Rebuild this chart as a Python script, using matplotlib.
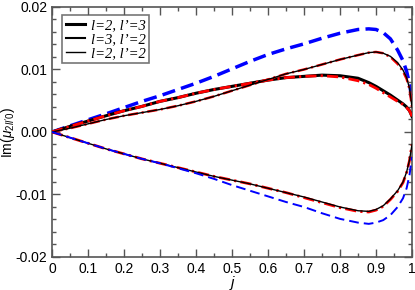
import matplotlib
matplotlib.use("Agg")
import matplotlib.pyplot as plt
from matplotlib.ticker import MultipleLocator
from matplotlib.lines import Line2D

plt.rcParams['font.family'] = ['Liberation Sans', 'DejaVu Sans']
plt.rcParams['mathtext.fontset'] = 'custom'
plt.rcParams['mathtext.rm'] = 'Liberation Sans'
plt.rcParams['mathtext.it'] = 'Liberation Sans:italic'

j = [0.0, 0.05, 0.1, 0.15, 0.2, 0.25, 0.3, 0.35, 0.4, 0.45, 0.5, 0.55, 0.6,
     0.65, 0.7, 0.75, 0.8, 0.85, 0.88, 0.9, 0.92, 0.94, 0.96, 0.975, 0.985,
     0.993, 1.0]

# l=2, l'=3 (thick black)
im_23 = [0.0, 0.0009, 0.00175, 0.0026, 0.0034, 0.0041, 0.0049, 0.0055, 0.0062,
         0.0068, 0.0073, 0.0078, 0.0083, 0.0087, 0.0089, 0.0091, 0.0090, 0.0086,
         0.0079, 0.0073, 0.0066, 0.0059, 0.0051, 0.0045, 0.0040, 0.0034, 0.0025]
# l=3, l'=2 (medium black)
im_32 = [0.0, 0.0006, 0.0013, 0.0020, 0.0026, 0.0031, 0.0036, 0.0042, 0.0049,
         0.0057, 0.0066, 0.0075, 0.0084, 0.0093, 0.0100, 0.0108, 0.0116, 0.0123,
         0.0127, 0.0128, 0.0126, 0.0121, 0.0111, 0.0099, 0.0087, 0.0070, 0.0040]
# l=2, l'=2 (thin black)
im_22 = [0.0, -0.0009, -0.0018, -0.0027, -0.0035, -0.0043, -0.0050, -0.0057,
         -0.0064, -0.0071, -0.0077, -0.0083, -0.0090, -0.0097, -0.0104, -0.0112,
         -0.0120, -0.0126, -0.0127, -0.0124, -0.0118, -0.0107, -0.0094, -0.0080,
         -0.0064, -0.0045, -0.0020]
# red dash-dot approximations
red_23 = [0.0, 0.0009, 0.00175, 0.0026, 0.0034, 0.0041, 0.0049, 0.0055, 0.0062,
          0.0068, 0.0073, 0.0078, 0.0083, 0.0087, 0.0089, 0.0090, 0.0088, 0.0082,
          0.0076, 0.0070, 0.0063, 0.0056, 0.0049, 0.0044, 0.0039, 0.0034, 0.0025]
red_32 = [0.0, 0.0006, 0.0013, 0.0020, 0.0026, 0.0031, 0.0036, 0.0042, 0.0049,
          0.0057, 0.0066, 0.0075, 0.0084, 0.0093, 0.0100, 0.0108, 0.0116, 0.0123,
          0.0127, 0.0128, 0.0126, 0.0120, 0.0109, 0.0097, 0.0085, 0.0069, 0.0040]
red_22 = [0.0, -0.0009, -0.0018, -0.0027, -0.0035, -0.0043, -0.0050, -0.0057,
          -0.0064, -0.0071, -0.0077, -0.0083, -0.0090, -0.0097, -0.0105, -0.0113,
          -0.0121, -0.0127, -0.0128, -0.0125, -0.0119, -0.0108, -0.0095, -0.0081,
          -0.0065, -0.0046, -0.0020]
# blue dashed
blue_up = [0.0, 0.00098, 0.00195, 0.0029, 0.0039, 0.0049, 0.0058, 0.0068, 0.0078,
           0.0089, 0.0101, 0.0113, 0.0124, 0.0133, 0.0141, 0.0150, 0.0158, 0.0164,
           0.0165, 0.0164, 0.0159, 0.0149, 0.0131, 0.0114, 0.0097, 0.0078, 0.0050]
blue_lo = [0.0, -0.0009, -0.0018, -0.0027, -0.0035, -0.0043, -0.0050, -0.0058,
           -0.0066, -0.0075, -0.0085, -0.0094, -0.0103, -0.0112, -0.0120, -0.0130,
           -0.0139, -0.0145, -0.0147, -0.0145, -0.0141, -0.0133, -0.0120, -0.0106,
           -0.0090, -0.0069, -0.0040]

legend_labels = ["l=2, l’=3", "l=3, l’=2", "l=2, l’=2"]

fig = plt.figure(figsize=(4.15, 2.9), dpi=100)
ax = fig.add_axes([0.1253, 0.1138, 0.8675, 0.8621])

dashdot = (0, (4.0, 1.5, 0.8, 1.5))
ax.plot(j, blue_up, color='#0000ff', lw=2.5, ls=(0, (3.8, 1.8)), zorder=2)
ax.plot(j, im_23, color='black', lw=2.2, zorder=3)
ax.plot(j, red_23, color='#ff0000', lw=2.0, ls=dashdot, zorder=4)
ax.plot(j, red_32, color='#ff0000', lw=1.8, ls=dashdot, zorder=3)
ax.plot(j, im_32, color='black', lw=1.0, zorder=5)
ax.plot(j, red_22, color='#ff0000', lw=2.0, ls=dashdot, zorder=3)
ax.plot(j, im_22, color='black', lw=1.0, zorder=4)
ax.plot(j, blue_lo, color='#0000ff', lw=1.4, ls=(0, (5, 2.6)), zorder=5)

ax.set_xlim(0, 1)
ax.set_ylim(-0.02, 0.02)
ax.xaxis.set_major_locator(MultipleLocator(0.1))
ax.xaxis.set_minor_locator(MultipleLocator(0.05))
ax.yaxis.set_major_locator(MultipleLocator(0.01))
ax.yaxis.set_minor_locator(MultipleLocator(0.002))
ax.xaxis.set_major_formatter(plt.FuncFormatter(
    lambda v, p: '0' if abs(v) < 1e-9 else ('1' if abs(v - 1) < 1e-9 else f'{v:.1f}')))
ax.yaxis.set_major_formatter(plt.FuncFormatter(
    lambda v, p: '0.00' if abs(v) < 1e-9 else f'{v:.2f}'))
ax.tick_params(which='both', direction='in', top=True, right=True, labelsize=10,
               colors='#555555', labelcolor='black')
ax.tick_params(which='major', length=6, width=1)
ax.tick_params(which='minor', length=3, width=1)
for s in ax.spines.values():
    s.set_color('#555555')
    s.set_linewidth(1.2)

ax.set_xlabel('j', fontsize=11, style='italic', labelpad=0)
ax.set_ylabel(r"Im($\mu_{2ll'0}$)", fontsize=10)
ax.yaxis.set_label_coords(-0.098, 0.5)

handles = [Line2D([], [], color='black', lw=2.2),
           Line2D([], [], color='black', lw=1.5),
           Line2D([], [], color='black', lw=1.0)]
leg = ax.legend(handles, legend_labels, loc='upper left', bbox_to_anchor=(0.028, 0.968),
                prop={'family': 'Liberation Serif', 'style': 'italic', 'size': 10.5},
                frameon=True, fancybox=False, borderaxespad=0, handlelength=1.3,
                handletextpad=0.4, labelspacing=0.05, borderpad=0.25)
leg.get_frame().set_edgecolor('#555555')
leg.get_frame().set_linewidth(1.2)

fig.savefig('out.png', dpi=100)
